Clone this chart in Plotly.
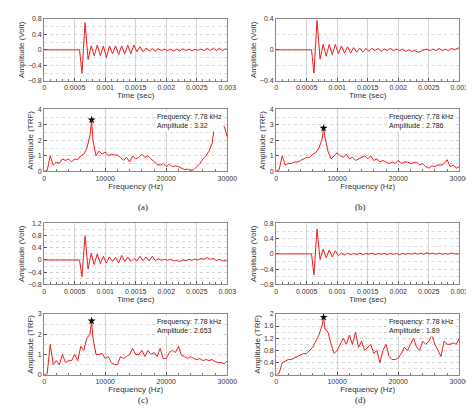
import plotly.graph_objects as go

# time axis (sec) and signals
t = [0, 0.00058, 0.00062, 0.00067, 0.00072, 0.00077, 0.00082, 0.00087, 0.00092, 0.00097,
     0.00102, 0.00107, 0.00112, 0.00117, 0.00122, 0.00127, 0.00132, 0.00137, 0.00142, 0.00147,
     0.00152, 0.00157, 0.00162, 0.00167, 0.00172, 0.00177, 0.00182, 0.00187, 0.00192, 0.00197,
     0.00202, 0.00207, 0.00212, 0.00217, 0.00222, 0.00227, 0.00232, 0.00237, 0.00242, 0.00247,
     0.00252, 0.00257, 0.00262, 0.00267, 0.00272, 0.00277, 0.00282, 0.00287, 0.00292, 0.00297, 0.003]

volt_a = [0, 0, -0.6, 0.7, -0.25, 0.1, -0.15, 0.12, -0.15, 0.1,
          -0.2, 0.1, -0.1, 0.1, -0.12, 0.1, -0.1, 0.12, -0.1, 0.12,
          -0.05, 0.08, -0.05, 0.05, -0.03, 0.03, -0.03, 0.03, -0.02, 0.02,
          -0.02, 0.02, -0.03, 0.02, -0.03, 0.03, -0.02, 0.02, -0.02, 0.01,
          -0.01, 0.02, -0.02, 0.04, -0.02, 0.05, -0.02, 0.04, -0.02, 0.03, 0]
volt_b = [0, 0, -0.3, 0.38, -0.12, 0.07, -0.08, 0.07, -0.06, 0.07,
          -0.05, 0.05, -0.04, 0.04, -0.04, 0.03, -0.03, 0.02, -0.03, 0.02,
          -0.02, 0.02, -0.01, 0.02, -0.02, 0.01, -0.01, 0.02, -0.01, 0.01,
          -0.01, 0.01, -0.02, 0.0, -0.02, -0.01, -0.03, -0.02, 0.0, 0.01,
          -0.01, 0.01, -0.01, 0.02, -0.01, 0.01, -0.01, 0.02, 0.0, 0.02, 0.03]
volt_c = [0, 0, -0.55, 0.8, -0.3, 0.22, -0.15, 0.2, -0.12, 0.12,
          -0.1, 0.1, -0.05, 0.08, -0.1, 0.15, -0.05, 0.1, -0.05, 0.05,
          -0.03, 0.12, -0.02, 0.1, -0.03, 0.12, -0.02, 0.04, -0.01, 0.02,
          -0.01, 0.02, -0.03, -0.02, -0.05, 0.0, -0.02, 0.02, -0.01, 0.03,
          0.0, 0.05, 0.02, 0.08, 0.02, 0.05, -0.02, 0.02, -0.03, -0.02, -0.05]
volt_d = [0, 0, -0.55, 0.65, -0.15, 0.12, -0.1, 0.1, -0.08, 0.08,
          -0.05, 0.02, -0.03, 0.02, -0.02, 0.01, -0.02, 0.02, -0.02, 0.01,
          -0.01, 0.02, -0.02, 0.01, -0.01, 0.01, -0.02, 0.01, -0.01, 0.01,
          -0.02, 0.01, -0.01, 0.01, -0.01, 0.02, -0.01, 0.02, -0.01, 0.03,
          0.0, 0.02, -0.01, 0.02, -0.01, 0.01, -0.01, 0.02, 0.0, 0.01, 0.0]

# frequency axis (Hz) and transfer functions
f = [0, 500, 1000, 1500, 2000, 2500, 3000, 3500, 4000, 4500, 5000, 5500, 6000, 6500, 7000, 7500,
     7780,
     8000, 8500, 9000, 9500, 10000, 10500, 11000, 11500, 12000, 12500, 13000, 13500, 14000, 14500,
     15000, 15500, 16000, 16500, 17000, 17500, 18000, 18500, 19000, 19500, 20000, 20500, 21000,
     21500, 22000, 22500, 23000, 23500, 24000, 24500, 25000, 25500, 26000, 26500, 27000, 27500,
     28000, 28500, 29000, 29500, 30000]

trf_a = [0, 0.05, 1.0, 0.4, 0.6, 0.5, 0.8, 0.7, 0.8, 0.6, 0.8, 0.75, 1.0, 1.1, 1.5, 2.3,
         3.32,
         2.0, 1.0, 1.3, 1.1, 1.25, 1.0, 1.1, 1.05, 1.05, 0.9, 0.7, 0.9, 0.6, 1.0, 0.8,
         0.9, 1.1, 0.9, 1.0, 0.8, 0.6, 0.45, 0.4, 0.5, 0.3, 0.45, 0.3, 0.35, 0.3, 0.2, 0.1, 0.15,
         0.05, 0.1, 0.3, 0.5, 0.8, 1.0, 1.3, 1.8, 3.2, 3.0, 2.9, 2.9, 2.2]
trf_b = [0, 0.1, 1.0, 0.4, 0.5, 0.5, 0.6, 0.6, 0.7, 0.8, 0.9, 0.9, 1.1, 1.2, 1.5, 2.0,
         2.786,
         2.2, 1.3, 0.8, 1.0, 1.2, 1.0, 0.9, 1.1, 0.8, 0.9, 0.7, 0.8, 0.9, 1.0, 0.8,
         1.0, 0.7, 0.8, 0.6, 0.7, 0.6, 0.5, 0.6, 0.5, 0.7, 0.5, 0.6, 0.6, 0.5, 0.55, 0.6, 0.4,
         0.5, 0.3, 0.2, 0.35, 0.3, 0.4, 0.4, 0.5, 0.75, 0.3, 0.4, 0.2, 0.3]
trf_c = [0, 0.05, 1.5, 0.5, 0.7, 0.5, 1.0, 0.6, 0.7, 0.7, 1.0, 0.7, 1.4, 1.2, 1.8, 2.0,
         2.653,
         1.8, 1.0, 1.0, 1.05, 0.8, 0.9, 0.6, 0.5, 0.5, 0.9, 0.8, 0.9, 1.0, 1.3, 1.0,
         1.0, 1.2, 0.9, 1.2, 1.0, 1.1, 0.9, 1.3, 0.8, 0.8, 1.1, 1.2, 1.1, 1.4, 0.95, 0.9, 0.8,
         0.9, 0.8, 0.75, 0.8, 0.7, 0.75, 0.7, 0.75, 0.65, 0.6, 0.6, 0.55, 0.7]
trf_d = [0, 0.05, 0.4, 0.45, 0.5, 0.5, 0.55, 0.6, 0.65, 0.7, 0.7, 0.8, 0.9, 1.1, 1.3, 1.6,
         1.89,
         1.5, 1.4, 1.0, 0.7, 0.8, 1.0, 1.2, 1.0, 1.3, 1.0, 1.4, 0.9, 1.1, 0.8, 0.9,
         1.0, 0.7, 0.8, 0.4, 0.8, 1.0, 0.6, 0.5, 0.5, 0.55, 0.7, 0.9, 0.8, 1.0, 1.2, 0.9, 0.8,
         1.1, 1.0, 1.1, 1.3, 1.0, 0.8, 0.6, 1.1, 1.0, 1.0, 1.05, 1.0, 1.2]

peak_freq = 7780
peak_amp = [3.32, 2.786, 2.653, 1.89]
peak_text = ["3.32", "2.786", "2.653", "1.89"]
panel_labels = ["(a)", "(b)", "(c)", "(d)"]
volts = [volt_a, volt_b, volt_c, volt_d]
trfs = [trf_a, trf_b, trf_c, trf_d]
volt_ranges = [(-0.8, 0.8), (-0.4, 0.4), (-0.8, 1.2), (-0.8, 0.8)]
trf_ranges = [(0, 4, 1), (0, 4, 1), (0, 3, 1), (0, 2, 0.4)]

W, H = 474, 417
xdom = [(35 / W, 223 / W), (273 / W, 461 / W)]
ydom_time = [(1 - 70 / H, 1 - 7 / H), (1 - 277 / H, 1 - 215 / H)]
ydom_freq = [(1 - 162 / H, 1 - 99 / H), (1 - 369 / H, 1 - 307 / H)]
label_y = [1 - 198 / H, 1 - 402 / H]

fig = go.Figure()
font = "Liberation Sans"
red = "#ee1c1c"
axis_common = dict(showline=True, mirror=True, linecolor="#888", linewidth=1,
                   ticks="inside", ticklen=3, tickcolor="#555",
                   tickfont=dict(size=7, color="#333"), zeroline=False,
                   gridcolor="#d4d4d4", gridwidth=1)

for i in range(4):
    col, row = i % 2, i // 2
    n1, n2 = 2 * i + 1, 2 * i + 2
    fig.add_trace(go.Scatter(x=t, y=volts[i], mode="lines", line=dict(color=red, width=1),
                             xaxis=f"x{n1}", yaxis=f"y{n1}", showlegend=False))
    fig.add_trace(go.Scatter(x=f, y=trfs[i], mode="lines", line=dict(color=red, width=1),
                             xaxis=f"x{n2}", yaxis=f"y{n2}", showlegend=False))
    fig.add_trace(go.Scatter(x=[peak_freq], y=[peak_amp[i]], mode="markers",
                             marker=dict(symbol="star", size=6, color="black"),
                             xaxis=f"x{n2}", yaxis=f"y{n2}", showlegend=False))
    vlo, vhi = volt_ranges[i]
    flo, fhi, fstep = trf_ranges[i]
    fig.layout[f"xaxis{n1}"] = dict(axis_common, domain=xdom[col], anchor=f"y{n1}",
                                    range=[0, 0.003], dtick=0.0005, showgrid=True,
                                    minor=dict(ticks="inside", ticklen=2, dtick=0.0001, tickcolor="#777"),
                                    title=dict(text="Time (sec)", font=dict(size=8, family=font), standoff=2))
    fig.layout[f"yaxis{n1}"] = dict(axis_common, domain=ydom_time[row], anchor=f"x{n1}",
                                    range=[vlo, vhi], dtick=0.4, griddash="dot",
                                    minor=dict(showgrid=True, dtick=0.2, griddash="dot", gridcolor="#ddd"),
                                    title=dict(text="Amplitude (Volt)", font=dict(size=8, family=font), standoff=2))
    fig.layout[f"xaxis{n2}"] = dict(axis_common, domain=xdom[col], anchor=f"y{n2}",
                                    range=[0, 30000], dtick=10000, tickformat="d", showgrid=True,
                                    minor=dict(ticks="inside", ticklen=2, dtick=2000, tickcolor="#777"),
                                    title=dict(text="Frequency (Hz)", font=dict(size=8, family=font), standoff=2))
    fig.layout[f"yaxis{n2}"] = dict(axis_common, domain=ydom_freq[row], anchor=f"x{n2}",
                                    range=[flo, fhi], dtick=fstep, griddash="dot",
                                    minor=dict(showgrid=True, dtick=fstep / 2, griddash="dot", gridcolor="#ddd"),
                                    title=dict(text="Amplitude (TRF)", font=dict(size=8, family=font), standoff=2))
    fig.add_annotation(xref=f"x{n2} domain", yref=f"y{n2} domain", x=0.98, y=0.97,
                       xanchor="right", yanchor="top", showarrow=False, align="left",
                       text=f"Frequency: 7.78 kHz<br>Amplitude : {peak_text[i]}",
                       font=dict(size=7, family=font, color="#222"), bgcolor="white")
    fig.add_annotation(xref="paper", yref="paper", x=sum(xdom[col]) / 2, y=label_y[row],
                       showarrow=False, text=panel_labels[i],
                       font=dict(size=9, family="Liberation Serif", color="#222"))

fig.update_layout(width=W, height=H, margin=dict(l=0, r=0, t=0, b=0),
                  plot_bgcolor="white", paper_bgcolor="white",
                  font=dict(family=font, color="#333"))
fig.write_html("out.html")
